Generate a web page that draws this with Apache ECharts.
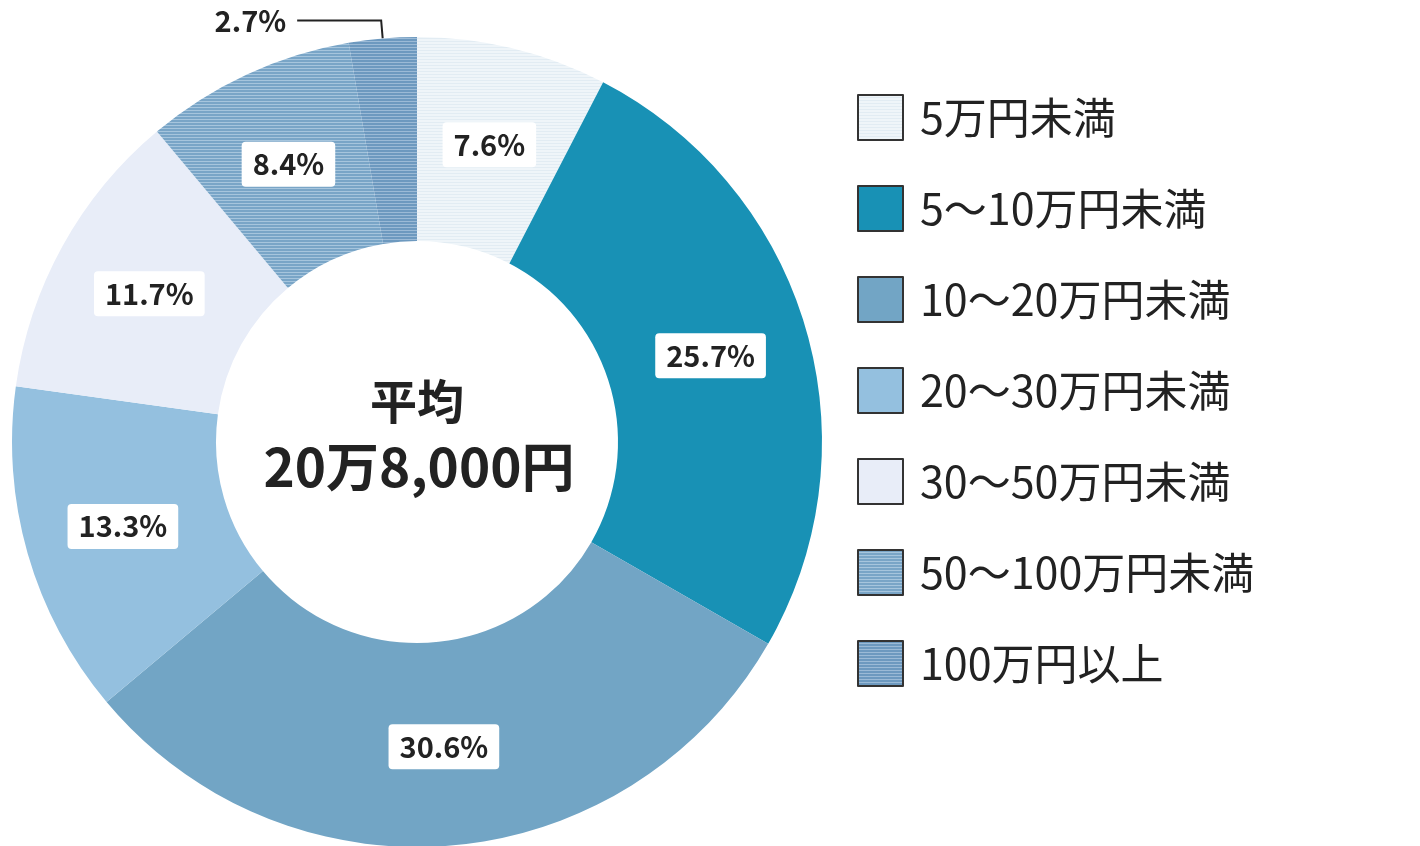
<!DOCTYPE html>
<html>
<head>
<meta charset="utf-8">
<script src="https://cdn.jsdelivr.net/npm/echarts@6/dist/echarts.min.js"></script>
<style>
  html, body { margin: 0; padding: 0; background: #fff; }
  #chart { width: 1420px; height: 846px; }
</style>
</head>
<body>
<div id="chart"></div>
<script>
// 所得区分と構成比（%）
var categories = ['5万円未満', '5～10万円未満', '10～20万円未満', '20～30万円未満', '30～50万円未満', '50～100万円未満', '100万円以上'];
var shares = [7.6, 25.7, 30.6, 13.3, 11.7, 8.4, 2.7];
var centerTitle = '平均';
var centerValue = '20万8,000円';

var FONT = '"Noto Sans CJK JP", "Noto Sans", sans-serif';

// 横縞模様
function stripes(bg, line) {
    var c = document.createElement('canvas');
    c.width = 4;
    c.height = 3;
    var ctx = c.getContext('2d');
    ctx.fillStyle = bg;
    ctx.fillRect(0, 0, 4, 3);
    ctx.fillStyle = line;
    ctx.fillRect(0, 2, 4, 1);
    return { image: c, repeat: 'repeat' };
}

var fills = [
    stripes('#eff5f9', '#e2ecf3'),
    '#1891b5',
    '#72a5c5',
    '#94c0df',
    '#e8edf8',
    stripes('#79a5c7', '#a6c5dd'),
    stripes('#6d99bf', '#9bbad6')
];

var pieData = [];
for (var i = 0; i < categories.length; i++) {
    var item = {
        name: categories[i],
        value: shares[i],
        itemStyle: { color: fills[i] }
    };
    if (i === categories.length - 1) {
        item.label = {
            position: 'outside',
            backgroundColor: 'transparent',
            padding: [0, 6, 0, 0],
            fontSize: 29
        };
        item.labelLine = {
            show: true,
            length: 18,
            length2: 84,
            lineStyle: { color: '#222', width: 2 }
        };
    }
    pieData.push(item);
}

var chart = echarts.init(document.getElementById('chart'));
var option = {
    animation: false,
    legend: {
        orient: 'vertical',
        left: 857,
        top: 94,
        padding: 0,
        itemWidth: 45,
        itemHeight: 45,
        itemGap: 44,
        icon: 'rect',
        selectedMode: false,
        itemStyle: { borderColor: '#333', borderWidth: 2 },
        textStyle: {
            fontFamily: FONT,
            fontSize: 43,
            lineHeight: 45,
            color: '#222',
            padding: [0, 0, 0, 12]
        },
        data: categories
    },
    graphic: [
        {
            type: 'text',
            x: 417,
            y: 401,
            style: {
                text: centerTitle,
                fontFamily: FONT,
                fontSize: 47,
                fontWeight: 'bold',
                fill: '#222',
                textAlign: 'center',
                textVerticalAlign: 'middle'
            }
        },
        {
            type: 'text',
            x: 419,
            y: 467,
            style: {
                text: centerValue,
                fontFamily: FONT,
                fontSize: 53,
                fontWeight: 'bold',
                fill: '#222',
                textAlign: 'center',
                textVerticalAlign: 'middle'
            }
        }
    ],
    series: [
        {
            name: '構成比',
            type: 'pie',
            center: [417, 442],
            radius: [201, 405],
            startAngle: 90,
            clockwise: true,
            avoidLabelOverlap: false,
            label: {
                show: true,
                position: 'inside',
                formatter: function (p) { return p.value.toFixed(1) + '%'; },
                fontFamily: FONT,
                fontSize: 29,
                fontWeight: 'bold',
                color: '#222',
                backgroundColor: '#fff',
                borderRadius: 4,
                padding: [8, 11]
            },
            labelLine: { show: false },
            emphasis: { disabled: true },
            data: pieData
        }
    ]
};
chart.setOption(option);
</script>
</body>
</html>
